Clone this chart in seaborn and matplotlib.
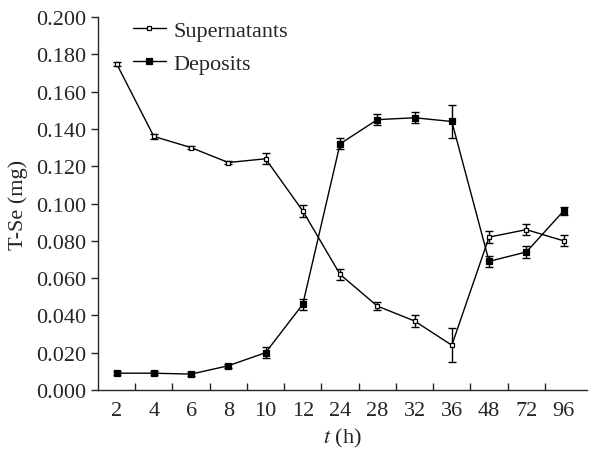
import numpy as np
import pandas as pd
import matplotlib
matplotlib.use("Agg")
import matplotlib.pyplot as plt
import seaborn as sns
from matplotlib.ticker import FixedLocator, FormatStrFormatter

# time points (h), shown as evenly spaced categories
hours = ["2", "4", "6", "8", "10", "12", "24", "28", "32", "36", "48", "72", "96"]

# total selenium (mg)
supernatants = [0.175, 0.136, 0.130, 0.122, 0.124, 0.096, 0.062, 0.045, 0.037, 0.024, 0.082, 0.086, 0.080]
supernatants_err = [0.001, 0.0015, 0.001, 0.001, 0.003, 0.003, 0.003, 0.002, 0.003, 0.009, 0.003, 0.003, 0.003]
deposits = [0.009, 0.009, 0.0085, 0.013, 0.020, 0.046, 0.132, 0.145, 0.146, 0.144, 0.069, 0.074, 0.096]
deposits_err = [0.001, 0.001, 0.001, 0.001, 0.003, 0.003, 0.003, 0.003, 0.003, 0.009, 0.003, 0.003, 0.002]

df_s = pd.DataFrame({"t": hours, "val": supernatants})
df_d = pd.DataFrame({"t": hours, "val": deposits})

sns.set_style("ticks")
plt.rcParams["font.family"] = ["Liberation Serif", "DejaVu Serif"]
plt.rcParams["mathtext.fontset"] = "stix"

fig = plt.figure(figsize=(5.9, 4.52), dpi=100)
ax = fig.add_axes([0.166, 0.135, 0.829, 0.825])

xpos = np.arange(len(hours))
ax.errorbar(xpos, supernatants, yerr=supernatants_err, fmt="none", ecolor="black",
            elinewidth=1.0, capsize=3, capthick=1.0)
ax.errorbar(xpos, deposits, yerr=deposits_err, fmt="none", ecolor="black",
            elinewidth=1.0, capsize=3, capthick=1.0)

sns.lineplot(data=df_s, x="t", y="val", color="black", lw=1.0, marker="s",
             markersize=3.5, markerfacecolor="white", markeredgecolor="black",
             markeredgewidth=0.9, ax=ax, label="Supernatants", sort=False)
sns.lineplot(data=df_d, x="t", y="val", color="black", lw=1.0, marker="s",
             markersize=4, markerfacecolor="black", markeredgecolor="black",
             markeredgewidth=0.9, ax=ax, label="Deposits", sort=False)

ax.set_xlim(-0.5, len(hours) - 0.37)
ax.set_ylim(0, 0.2)
ax.set_yticks(np.arange(0, 0.2001, 0.02))
ax.yaxis.set_major_formatter(FormatStrFormatter("%.3f"))
ax.set_xticks(xpos)
ax.set_xticklabels(hours)
ax.xaxis.set_minor_locator(FixedLocator(np.arange(0.5, len(hours) - 0.5, 1)))
ax.tick_params(axis="x", which="major", length=0, labelsize=16, pad=8)
ax.tick_params(axis="x", which="minor", direction="in", length=5, width=1.0)
ax.tick_params(axis="y", which="major", direction="out", length=5, width=1.0, labelsize=16)

for side in ["top", "right"]:
    ax.spines[side].set_visible(False)
for side in ["left", "bottom"]:
    ax.spines[side].set_linewidth(1.0)

ax.set_ylabel("T-Se (mg)", fontsize=16, labelpad=6)
ax.set_xlabel(r"$\it{t}$ (h)", fontsize=16, labelpad=4)

ax.legend(loc="upper left", bbox_to_anchor=(0.03, 1.045), frameon=False, fontsize=16,
          handlelength=1.5, handletextpad=0.35, labelspacing=0.55)

fig.savefig("out.png", dpi=100)
